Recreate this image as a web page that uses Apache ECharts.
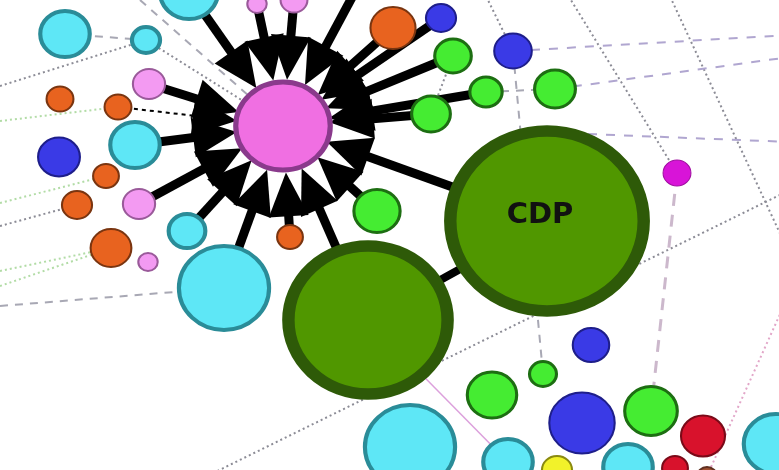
<!DOCTYPE html>
<html><head><meta charset="utf-8">
<script src="https://cdn.jsdelivr.net/npm/echarts@6/dist/echarts.min.js"></script>
<style>html,body{margin:0;padding:0;background:#fff}#c{width:779px;height:470px}</style>
</head><body><div id="c"></div>
<script>
// ---- data ----
const nodeNames = ['cyanTop','cyanA','cyanB','pinkA','pinkT1','pinkT2','orangeA','orangeB','cyanC','blueA','orangeC','orangeD','pinkB','cyanD','orangeE','pinkC','cyanBig','orangeF','orangeTop','blueTop','greenA','blueB','greenB','greenC','greenD','greenE','magenta','CDP','greenBig','blueC','greenF','greenG','blueD','greenH','redA','cyanR','cyanBL','cyanE','yellow','cyanF','redB','brown','hub'];
const nodeX = [189,65,146,149,257,294,60,118,135,59,106,77,139,187,111,148,224,290,393,441,453,513,486,555,431,377,677,547,368,591,543,492,582,651,703,776,410,508,557,628,675,707,283];
const nodeY = [-8,34,40,84,4,0,99,107,145,157,176,205,204,231,248,262,288,237,28,18,56,51,92,89,114,211,173,221,320,345,374,395,423,411,436,444,447,462,470,467,468,476,126];
const nodeSize = [58,50,30,32,20,27,27,27,50,41,26,30,32,38,40,20,88,26,44,30,37,37,33,41,39,46,27,192,160,36,28,49,63,52,43,64,88,50,30,50,26,20,93];
const nodeKind = ['cyan','cyan','cyan','pink','pink','pink','orange','orange','cyan','blue','orange','orange','pink','cyan','orange','pink','cyan','orange','orange','blue','green','blue','green','green','green','green','magenta','big','big','blue','green','green','blue','green','red','cyan','cyan','cyan','yellow','cyan','red','brown','hub'];
const labelledNode = 'CDP';

// invisible anchor points where faint edges leave the frame
const anchorNames = ['aT362','aL305','aBL','aBR','aR36','aR58','aT573','aT672','aR245','a593','aR142','aT486','aR300','aL203','aL223','aL268','aL283','aL122','aL85','aT140'];
const anchorX = [364,0,195,790,790,790,566,668,790,588,790,484,790,0,0,0,0,0,0,140];
const anchorY = [-25,306,482,190,35,57,-8,-8,255,134,142,-8,292,203,226,271,286,121,86,0];

// edges
const hubSources = ['cyanTop','pinkT1','pinkT2','aT362','orangeTop','blueTop','greenA','greenB','greenD','CDP','greenE','greenBig','orangeF','cyanBig','cyanD','pinkB','cyanC','pinkA'];
const thinHubSources = ['orangeB'];
const strongLinks = [['CDP','greenBig']];
const dottedGrayLinks = [['aBL','aBR'],['aT573','magenta'],['aT672','aR245'],['aT486','blueB'],['aL85','cyanB'],['aL223','orangeD'],['greenA','greenD'],['cyanB','hub']];
const dashedGrayLinks = [['aL305','cyanBig'],['cyanA','cyanB'],['greenB','greenC'],['blueB','greenF'],['aT140','hub']];
const dashedLavenderLinks = [['blueB','aR36'],['a593','aR142'],['greenC','aR58']];
const dashedPinkLinks = [['magenta','greenH']];
const dottedPinkLinks = [['aR300','brown']];
const solidPinkLinks = [['greenBig','cyanE']];
const dottedGreenLinks = [['aL203','orangeC'],['aL268','orangeE'],['aL283','orangeE'],['aL122','orangeB']];

// ---- styles ----
const STRETCH = 1.07;
const STYLE = {
  cyan:{fill:'#5ee7f6',border:'#2a8c98',bw:4},
  pink:{fill:'#f39af2',border:'#9a5a9a',bw:2},
  hub:{fill:'#f06fe2',border:'#8a3a8c',bw:5},
  orange:{fill:'#e8631f',border:'#7a3510',bw:2},
  blue:{fill:'#3a3ae6',border:'#1e1e8a',bw:2},
  green:{fill:'#45ec32',border:'#1d6e12',bw:3},
  big:{fill:'#509700',border:'#2e5a08',bw:12},
  red:{fill:'#d8122c',border:'#7a0a18',bw:2},
  yellow:{fill:'#f2f22a',border:'#8a8a10',bw:2},
  magenta:{fill:'#d814d8',border:'#a010a0',bw:1},
  brown:{fill:'#a05030',border:'#603020',bw:2}
};
const ARROW_GAP = 22;          // arrow centre distance beyond hub edge
const ARROW_SIZE = [40, 44];   // [width, length]

const hubIdx = nodeNames.indexOf('hub');
const nodes = [];
nodes.push({name:'hubRing', value:[nodeX[hubIdx], nodeY[hubIdx]],
  symbolSize: nodeSize[hubIdx] + 2*ARROW_GAP, itemStyle:{opacity:0}, label:{show:false}});
anchorNames.forEach((n,i)=>nodes.push({name:n, value:[anchorX[i],anchorY[i]], symbolSize:1, itemStyle:{opacity:0}, label:{show:false}}));
nodeNames.forEach((n,i)=>{
  const st = STYLE[nodeKind[i]];
  const s = nodeSize[i];
  nodes.push({
    name:n, value:[nodeX[i],nodeY[i]],
    symbolSize:[s*STRETCH - st.bw, s - st.bw],
    itemStyle:{color:st.fill, borderColor:st.border, borderWidth:st.bw, opacity:1},
    label: n===labelledNode ? {show:true, position:'inside', formatter:'CDP', fontSize:29, fontWeight:'bold',
      color:'#111', fontFamily:'DejaVu Sans', offset:[-7,-6]} : {show:false}
  });
});

const links = [];
function addGroup(list, ls){ list.forEach(p=>links.push({source:p[0], target:p[1], lineStyle:Object.assign({opacity:1},ls)})); }
addGroup(dottedGreenLinks,{color:'#b2dca6',width:2,type:[2,3]});
addGroup(dottedGrayLinks,{color:'#8c8c96',width:2,type:[2,3]});
addGroup(dashedGrayLinks,{color:'#a8a8b4',width:2,type:[8,7]});
addGroup(dashedLavenderLinks,{color:'#b0a6d0',width:2,type:[9,9]});
addGroup(dashedPinkLinks,{color:'#ccb8cc',width:3,type:[12,9]});
addGroup(dottedPinkLinks,{color:'#e2a6c8',width:2,type:[2,3]});
addGroup(solidPinkLinks,{color:'#dca0dc',width:1.5,type:'solid'});
thinHubSources.forEach(s=>links.push({source:s, target:'hubRing', symbol:['none','triangle'], symbolSize:[0,ARROW_SIZE],
  lineStyle:{color:'#000', width:2, type:[4,4], opacity:1}}));
strongLinks.forEach(p=>links.push({source:p[0],target:p[1],lineStyle:{color:'#000',width:8,opacity:1}}));
hubSources.forEach(s=>links.push({source:s, target:'hubRing', symbol:['none','triangle'], symbolSize:[0,ARROW_SIZE],
  lineStyle:{color:'#000', width:9, opacity:1}}));

const chart = echarts.init(document.getElementById('c'), null, {renderer:'canvas'});
chart.setOption({
  backgroundColor:'#ffffff',
  animation:false,
  grid:{left:0,right:0,top:0,bottom:0,containLabel:false},
  xAxis:{type:'value',min:0,max:779,show:false},
  yAxis:{type:'value',min:0,max:470,inverse:true,show:false},
  series:[{
    type:'graph', coordinateSystem:'cartesian2d',
    edgeSymbol:['none','none'],
    data:nodes, links:links,
    emphasis:{disabled:true},
    lineStyle:{opacity:1}
  }]
});
</script>
</body></html>
